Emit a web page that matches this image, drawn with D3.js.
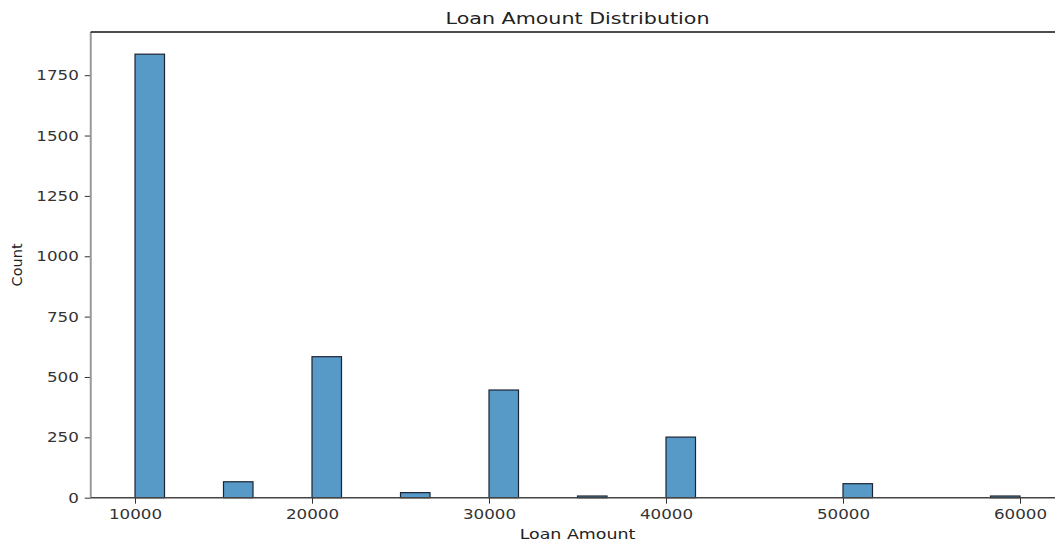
<!DOCTYPE html>
<html>
<head>
<meta charset="utf-8">
<script src="https://cdn.jsdelivr.net/npm/d3@7/dist/d3.min.js"></script>
<style>
  html, body { margin: 0; padding: 0; background: #ffffff; }
  svg { display: block; font-family: "DejaVu Sans", sans-serif; }
</style>
</head>
<body>
<svg id="chart" width="1055" height="541"></svg>
<script>
// Histogram of loan amounts: 30 equal bins spanning 10000–60000
const amountRange = [10000, 60000];
const binCount = 30;
const loanAmounts = [10000, 15000, 20000, 25000, 30000, 35000, 40000, 50000, 60000];
const counts      = [1837,  66,    584,   21,    446,   7,     251,   58,    7];
const xTicks = [10000, 20000, 30000, 40000, 50000, 60000];
const yTicks = [0, 250, 500, 750, 1000, 1250, 1500, 1750];

const svg = d3.select("#chart");
const plotLeft = 90.75, plotRight = 1064.25, plotTop = 32, plotBottom = 497.7;

const binWidth = (amountRange[1] - amountRange[0]) / binCount;
const pad = (amountRange[1] - amountRange[0]) * 0.05;
const x = d3.scaleLinear().domain([amountRange[0] - pad, amountRange[1] + pad]).range([plotLeft, plotRight]);
const y = d3.scaleLinear().domain([0, d3.max(counts) * 1.05]).range([plotBottom, plotTop]);

const bins = loanAmounts.map((a, i) => {
  const k = Math.min(Math.floor((a - amountRange[0]) / binWidth), binCount - 1);
  const x0 = amountRange[0] + k * binWidth;
  return { x0, x1: x0 + binWidth, count: counts[i] };
});

// Bars
svg.append("g").selectAll("rect").data(bins).join("rect")
  .attr("x", d => x(d.x0))
  .attr("y", d => y(d.count))
  .attr("width", d => x(d.x1) - x(d.x0))
  .attr("height", d => y(0) - y(d.count))
  .attr("fill", "#1f77b4")
  .attr("fill-opacity", 0.75)
  .attr("stroke", "#1b2530")
  .attr("stroke-width", 1.2);

// Axes
const fontSize = 14.5;
const xAxis = svg.append("g").attr("transform", `translate(0,${plotBottom})`)
  .call(d3.axisBottom(x).tickValues(xTicks).tickFormat(d3.format("d")).tickSize(6).tickPadding(5));
const yAxis = svg.append("g").attr("transform", `translate(${plotLeft},0)`)
  .call(d3.axisLeft(y).tickValues(yTicks).tickFormat(d3.format("d")).tickSize(6).tickPadding(6));

[xAxis, yAxis].forEach(g => {
  g.select(".domain").remove();
  g.selectAll(".tick line").attr("stroke", "#333").attr("stroke-width", 1);
  g.selectAll(".tick text").attr("fill", "#333").style("font-size", fontSize + "px")
    .style("font-family", "DejaVu Sans, sans-serif");
});

// Spines
svg.append("line").attr("x1", plotLeft).attr("x2", plotLeft).attr("y1", plotTop).attr("y2", plotBottom)
  .attr("stroke", "#999").attr("stroke-width", 2);
svg.append("line").attr("x1", plotLeft).attr("x2", plotRight).attr("y1", plotTop).attr("y2", plotTop)
  .attr("stroke", "#111").attr("stroke-width", 1.4);
svg.append("line").attr("x1", plotLeft).attr("x2", plotRight).attr("y1", plotBottom).attr("y2", plotBottom)
  .attr("stroke", "#444").attr("stroke-width", 1.4);
svg.append("line").attr("x1", plotRight).attr("x2", plotRight).attr("y1", plotTop).attr("y2", plotBottom)
  .attr("stroke", "#444").attr("stroke-width", 1.4);

// Titles
svg.append("text").attr("data-stretch", 1.25).attr("x", (plotLeft + plotRight) / 2).attr("y", 24)
  .attr("text-anchor", "middle").attr("fill", "#222").style("font-size", "16.5px")
  .text("Loan Amount Distribution");
svg.append("text").attr("data-stretch", 1.2).attr("x", (plotLeft + plotRight) / 2).attr("y", 539)
  .attr("text-anchor", "middle").attr("fill", "#222").style("font-size", "14.5px")
  .text("Loan Amount");
svg.append("text").attr("class", "ylabel")
  .attr("transform", `translate(22,${(plotTop + plotBottom) / 2}) rotate(-90)`)
  .attr("text-anchor", "middle").attr("fill", "#222").style("font-size", "14.5px")
  .text("Count");

// Text in this rendering is set slightly wide
svg.selectAll("text").each(function () {
  if (this.getAttribute("class") === "ylabel") return;
  const k = +(this.getAttribute("data-stretch") || 1.15);
  const w = this.getComputedTextLength();
  d3.select(this).attr("textLength", w * k).attr("lengthAdjust", "spacingAndGlyphs");
});
</script>
</body>
</html>
